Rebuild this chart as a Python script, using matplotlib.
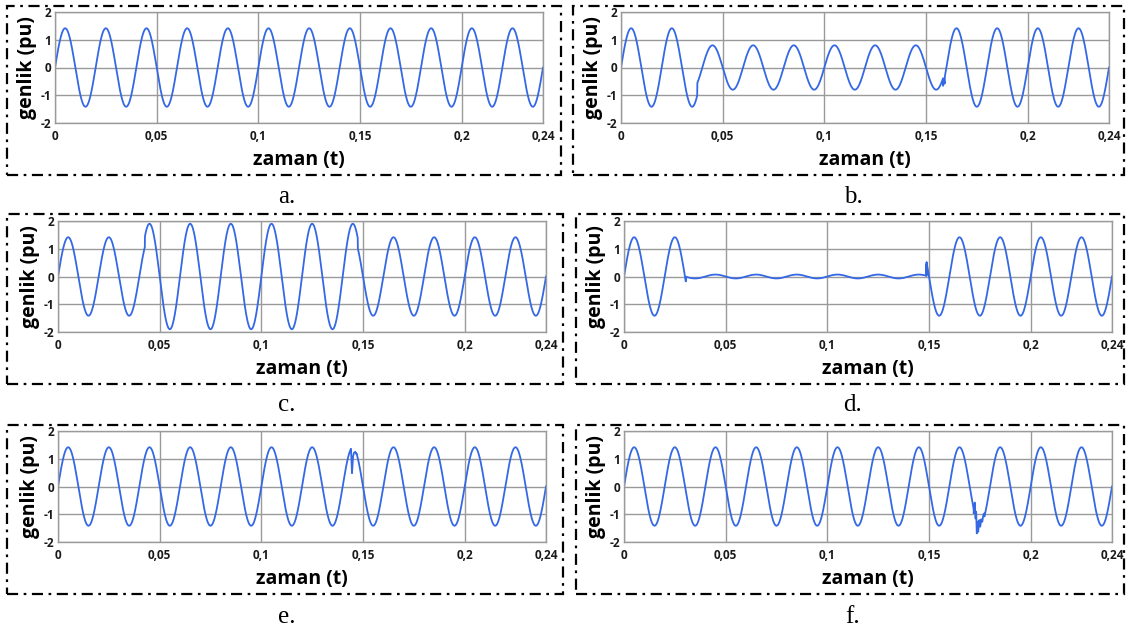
import numpy as np
import matplotlib
matplotlib.use("Agg")
import matplotlib.pyplot as plt
from matplotlib.patches import Rectangle

# ---------------- data ----------------
FREQ_HZ = 50.0
T_END = 0.24

x_ticks = [0, 0.05, 0.1, 0.15, 0.2, 0.24]
x_ticklabels = ["0", "0,05", "0,1", "0,15", "0,2", "0,24"]
y_ticks = [-2, -1, 0, 1, 2]
y_ticklabels = ["-2", "-1", "0", "1", "2"]

captions = ["a.", "b.", "c.", "d.", "e.", "f."]

# piecewise amplitude: breakpoints (s) and amplitude (pu) of each segment
a_breaks = [0.0, 0.24]
a_amps = [1.414]
b_breaks = [0.0, 0.0375, 0.1584, 0.24]
b_amps = [1.414, 0.80, 1.414]
c_breaks = [0.0, 0.0427, 0.1474, 0.24]
c_amps = [1.414, 1.90, 1.414]
d_breaks = [0.0, 0.0304, 0.1488, 0.24]
d_amps = [1.414, 0.07, 1.414]
e_breaks = [0.0, 0.24]
e_amps = [1.414]
f_breaks = [0.0, 0.24]
f_amps = [1.414]

# transient samples (time s, value pu) that replace the wave locally
a_tr_t, a_tr_v = [], []
b_tr_t = [0.1584, 0.1589, 0.1592]
b_tr_v = [-0.66, -0.45, -0.58]
c_tr_t, c_tr_v = [], []
d_tr_t = [0.1486, 0.1487]
d_tr_v = [0.07, 0.45]
e_tr_t = [0.1441, 0.1446, 0.1451, 0.1456, 0.1462, 0.1468]
e_tr_v = [1.36, 0.48, 1.08, 1.22, 1.25, 1.17]
f_tr_t = [0.1720, 0.1725, 0.1729, 0.1732, 0.1735, 0.1739, 0.1742, 0.1747,
          0.1752, 0.1757, 0.1762, 0.1767, 0.1772]
f_tr_v = [-0.97, -0.58, -1.15, -0.91, -1.69, -1.27, -1.63, -1.21,
          -1.45, -1.18, -1.27, -1.03, -0.97]

panels = [
    (a_breaks, a_amps, a_tr_t, a_tr_v),
    (b_breaks, b_amps, b_tr_t, b_tr_v),
    (c_breaks, c_amps, c_tr_t, c_tr_v),
    (d_breaks, d_amps, d_tr_t, d_tr_v),
    (e_breaks, e_amps, e_tr_t, e_tr_v),
    (f_breaks, f_amps, f_tr_t, f_tr_v),
]

# ---------------- layout (pixels of a 1127x632 canvas) ----------------
W, H = 1127, 632
# axes: left, right, top, bottom
axes_px = [
    (55, 543, 12, 123),
    (621, 1109, 12, 123),
    (58, 546, 221, 332),
    (624, 1112, 221, 332),
    (58, 546, 431, 542),
    (624, 1112, 431, 542),
]
# dash-dot boxes: left, right, top, bottom
box_px = [
    (7, 561, 6, 175),
    (573, 1124, 6, 175),
    (7, 563, 214, 384),
    (576, 1124, 214, 384),
    (7, 563, 425, 594),
    (576, 1124, 425, 594),
]
cap_px = [(287, 197), (853, 197), (287, 405), (853, 405), (287, 617), (853, 617)]

LINE_COLOR = "#3468e4"
GRID_COLOR = "#9a9a9a"

fig = plt.figure(figsize=(W / 100, H / 100), dpi=100)
fig.patch.set_facecolor("white")


def build_wave(breaks, amps, tr_t, tr_v):
    t = np.linspace(0.0, T_END, 9601)
    idx = np.clip(np.searchsorted(breaks, t, side="right") - 1, 0, len(amps) - 1)
    y = np.asarray(amps)[idx] * np.sin(2 * np.pi * FREQ_HZ * t)
    if tr_t:
        keep_l = t < tr_t[0]
        keep_r = t > tr_t[-1]
        t = np.concatenate([t[keep_l], tr_t, t[keep_r]])
        y = np.concatenate([y[keep_l], tr_v, y[keep_r]])
    return t, y


for i, (breaks, amps, tr_t, tr_v) in enumerate(panels):
    l, r, tp, bt = axes_px[i]
    ax = fig.add_axes([l / W, 1 - bt / H, (r - l) / W, (bt - tp) / H])
    t, y = build_wave(breaks, amps, tr_t, tr_v)
    ax.plot(t, y, color=LINE_COLOR, lw=1.3, solid_joinstyle="round")
    ax.set_xlim(0, T_END)
    ax.set_ylim(-2, 2)
    ax.set_xticks(x_ticks)
    ax.set_xticklabels(x_ticklabels, fontsize=8.5, fontweight="bold",
                       family="Open Sans", color="#1a1a1a")
    ax.set_yticks(y_ticks)
    ax.set_yticklabels(y_ticklabels, fontsize=8.5, fontweight="bold",
                       family="Open Sans", color="#1a1a1a")
    ax.tick_params(axis="x", length=0, pad=5)
    ax.tick_params(axis="y", length=0, pad=3)
    ax.grid(True, color=GRID_COLOR, lw=1.0)
    ax.set_axisbelow(True)
    for s in ax.spines.values():
        s.set_color(GRID_COLOR)
        s.set_linewidth(1.0)
    ax.set_xlabel("zaman (t)", fontsize=14, fontweight="bold",
                  family="Open Sans", labelpad=5)
    ax.set_ylabel("genlik (pu)", fontsize=14, fontweight="bold",
                  family="Open Sans", labelpad=2)

    bl, br, btp, bbt = box_px[i]
    rect = Rectangle((bl / W, 1 - bbt / H), (br - bl) / W, (bbt - btp) / H,
                     transform=fig.transFigure, fill=False, edgecolor="black",
                     lw=1.6, linestyle=(0, (5, 2.5, 1.2, 2.5)))
    fig.add_artist(rect)

    cx, cy = cap_px[i]
    fig.text(cx / W, 1 - cy / H, captions[i], ha="center", va="center",
             fontsize=18, family="Liberation Serif")

fig.savefig("out.png", dpi=100)
